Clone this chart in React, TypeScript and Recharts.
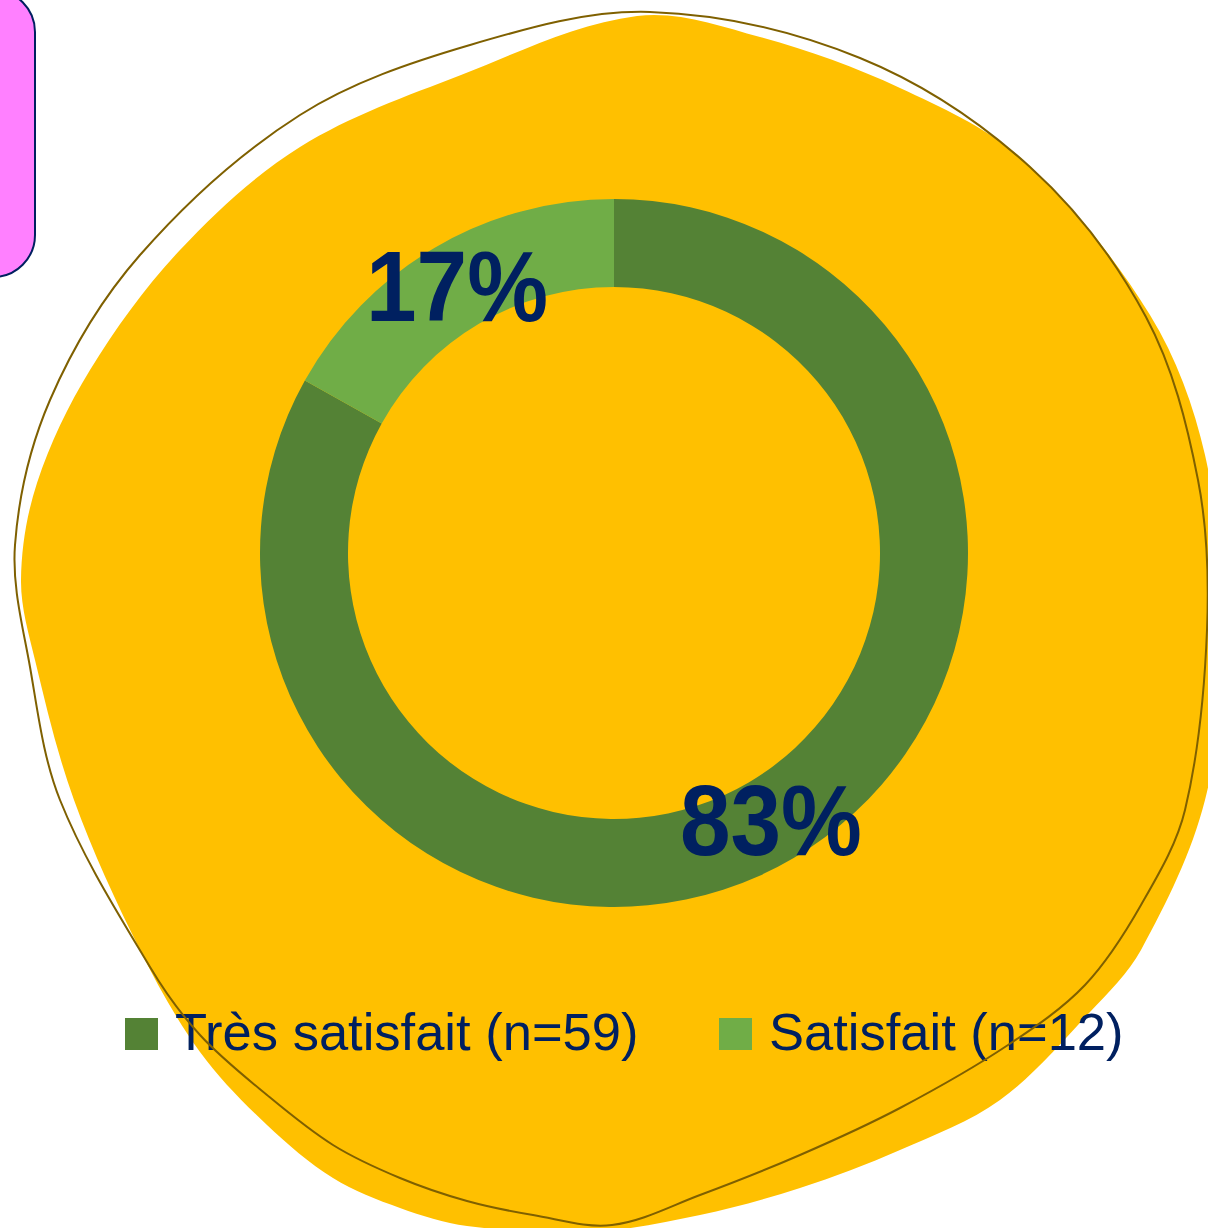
import React from "react";
import { PieChart, Pie, Cell, Legend } from "recharts";

const categories = ["Très satisfait", "Satisfait"];
const counts = [59, 12];
const colors = ["#548235", "#70AD47"];
const legendLabels = ["Très satisfait (n=59)", "Satisfait (n=12)"];

const data = categories.map((name, i) => ({ name, value: counts[i], label: legendLabels[i] }));
const total = counts.reduce((a, b) => a + b, 0);

const NAVY = "#002060";
const FONT = "'Liberation Sans', Arial, sans-serif";

type P = [number, number];
const outlinePts: P[] = [
  [650, 12], [860, 58], [1030, 167], [1146, 317], [1198, 480], [1207, 630], [1185, 810],
  [1141, 905], [1085, 985], [1008, 1045], [900, 1108], [800, 1155], [700, 1195], [612, 1225],
  [533, 1215], [467, 1201], [400, 1178], [333, 1145], [267, 1095], [200, 1035], [150, 967],
  [60, 800], [30, 667], [15, 545], [50, 400], [140, 255], [300, 115], [470, 45],
];
const blobPts: P[] = [
  [637, 16], [760, 37], [900, 88], [1023, 160], [1150, 315], [1205, 455], [1222, 630],
  [1205, 800], [1141, 950], [1090, 1012], [1000, 1100], [900, 1150], [800, 1188], [700, 1215],
  [590, 1232], [467, 1226], [400, 1208], [333, 1178], [267, 1125], [200, 1052], [140, 950],
  [74, 800], [35, 660], [21, 580], [37, 483], [90, 370], [180, 250], [300, 147], [461, 75],
];

function smoothPath(pts: P[]): string {
  const n = pts.length;
  const dirs = pts.map((_, i) => {
    const a = pts[(i - 1 + n) % n];
    const b = pts[(i + 1) % n];
    const dx = b[0] - a[0];
    const dy = b[1] - a[1];
    const l = Math.hypot(dx, dy) || 1;
    return [dx / l, dy / l];
  });
  let d = `M${pts[0][0]},${pts[0][1]}`;
  for (let i = 0; i < n; i++) {
    const p1 = pts[i];
    const p2 = pts[(i + 1) % n];
    const L = Math.hypot(p2[0] - p1[0], p2[1] - p1[1]) / 3;
    const d1 = dirs[i];
    const d2 = dirs[(i + 1) % n];
    const c1x = p1[0] + d1[0] * L;
    const c1y = p1[1] + d1[1] * L;
    const c2x = p2[0] - d2[0] * L;
    const c2y = p2[1] - d2[1] * L;
    d += ` C${c1x.toFixed(1)},${c1y.toFixed(1)} ${c2x.toFixed(1)},${c2y.toFixed(1)} ${p2[0]},${p2[1]}`;
  }
  return d + " Z";
}

const RAD = Math.PI / 180;

const renderLabel = (props: any) => {
  const { cx, cy, midAngle, innerRadius, outerRadius, value } = props;
  const r = (innerRadius + outerRadius) / 2;
  const x = cx + r * Math.cos(-midAngle * RAD);
  const y = cy + r * Math.sin(-midAngle * RAD);
  const txt = `${Math.round((value / total) * 100)}%`;
  return (
    <text
      x={x}
      y={y}
      textAnchor="middle"
      dominantBaseline="central"
      fill={NAVY}
      fontFamily={FONT}
      fontWeight="bold"
      fontSize={100}
      textLength={182}
      lengthAdjust="spacingAndGlyphs"
    >
      {txt}
    </text>
  );
};

const legendX = [125, 719];
const renderLegend = () => (
  <svg width={1208} height={80} style={{ display: "block", overflow: "visible" }}>
    {data.map((d, i) => (
      <g key={d.name}>
        <rect x={legendX[i]} y={28} width={33} height={32} fill={colors[i]} />
        <text x={legendX[i] + 50} y={60} fill={NAVY} fontFamily={FONT} fontSize={52.5}>
          {d.label}
        </text>
      </g>
    ))}
  </svg>
);

export default function App() {
  return (
    <div
      style={{
        position: "absolute",
        left: 0,
        top: 0,
        width: 1208,
        height: 1228,
        overflow: "hidden",
        background: "#ffffff",
      }}
    >
      <svg width={1208} height={1228} style={{ position: "absolute", left: 0, top: 0 }}>
        <path d={smoothPath(blobPts)} fill="#FFC000" />
      </svg>
      <div style={{ position: "absolute", left: 0, top: 0 }}>
        <PieChart width={1208} height={1228} margin={{ top: 0, right: 0, bottom: 0, left: 0 }}>
          <Pie
            data={data}
            dataKey="value"
            nameKey="name"
            cx={614}
            cy={553}
            innerRadius={266}
            outerRadius={354}
            startAngle={90}
            endAngle={-270}
            stroke="none"
            label={renderLabel}
            labelLine={false}
            isAnimationActive={false}
          >
            {data.map((d, i) => (
              <Cell key={d.name} fill={colors[i]} />
            ))}
          </Pie>
          <Legend
            content={renderLegend}
            wrapperStyle={{ position: "absolute", left: 0, top: 990, width: 1208, height: 80 }}
          />
        </PieChart>
      </div>
      <svg
        width={1208}
        height={1228}
        style={{ position: "absolute", left: 0, top: 0, pointerEvents: "none" }}
      >
        <path d={smoothPath(outlinePts)} fill="none" stroke="#7F6000" strokeWidth={2} />
        <rect x={-100} y={-10} width={135} height={287} rx={42} ry={42} fill="#FF80FF" stroke={NAVY} strokeWidth={2} />
      </svg>
    </div>
  );
}
